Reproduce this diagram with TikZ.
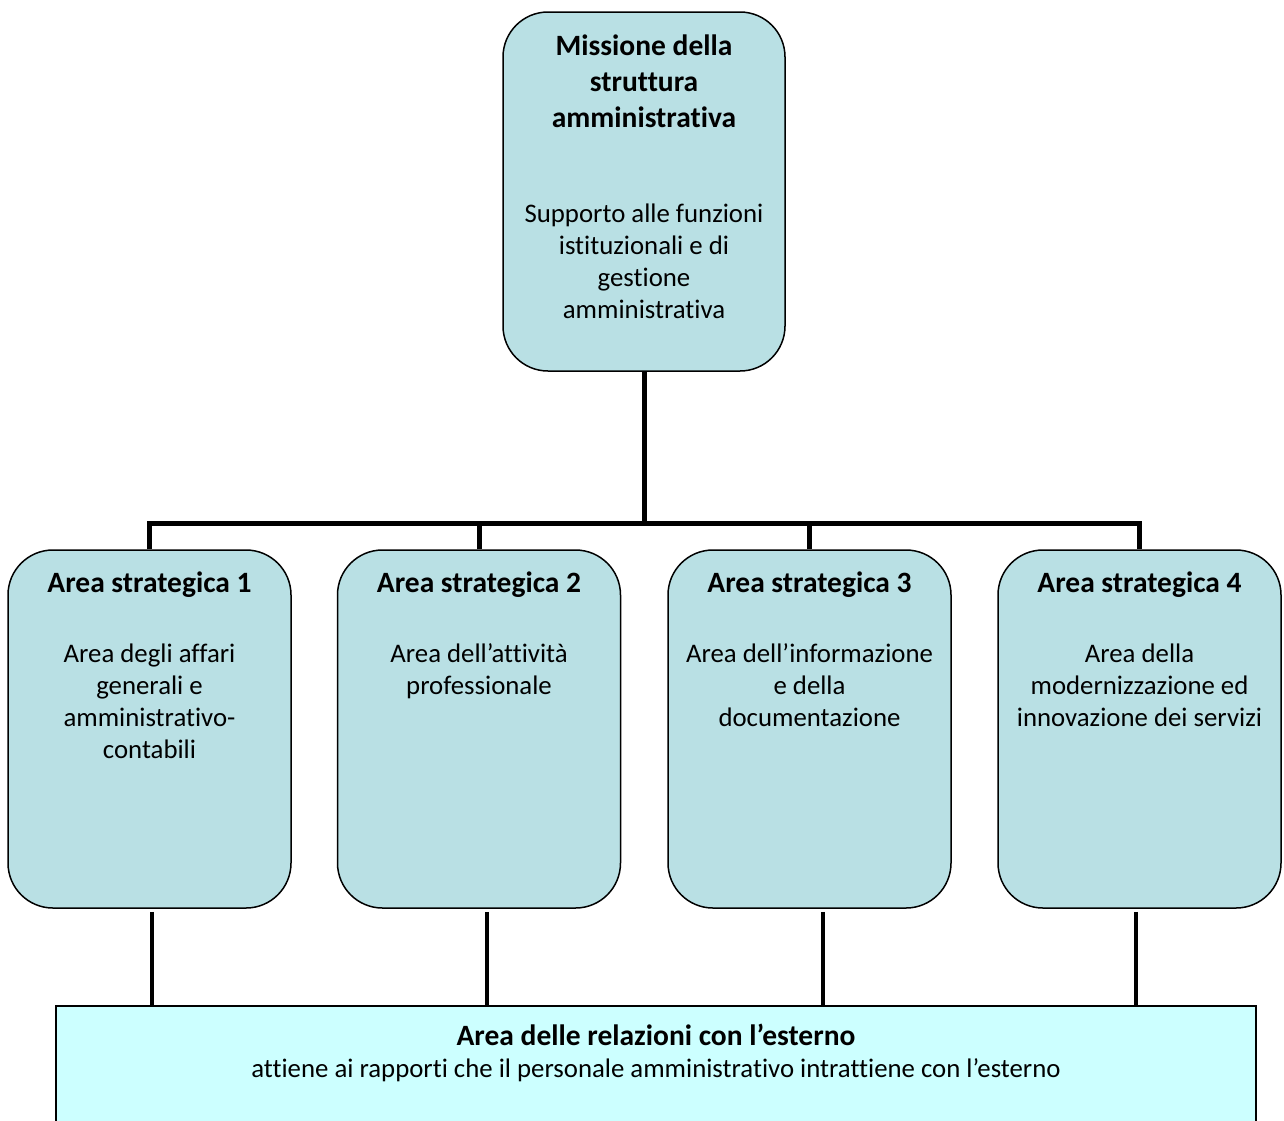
\documentclass[tikz,border=0pt]{standalone}
\usepackage{fontspec}
\setmainfont{Carlito}[Ligatures={NoCommon}]
\definecolor{areafill}{RGB}{185,224,228}
\definecolor{extfill}{RGB}{204,255,255}
\begin{document}
\begin{tikzpicture}[x=1pt,y=-1pt,
  rbox/.style={draw=black, line width=1.5pt, fill=areafill, rounded corners=45pt,
    minimum width=283pt, minimum height=358pt, inner sep=0pt},
  ebox/.style={draw=black, line width=1.5pt, fill=extfill,
    minimum width=1200pt, minimum height=130pt, inner sep=0pt},
  ttl/.style={anchor=base, inner sep=0pt},
  conn/.style={line width=5pt},
  conn2/.style={line width=4pt},
]
\clip (0,0) rectangle (1284,1120);
\fill[white] (0,0) rectangle (1284,1120);
\newcommand\ttext[1]{\begin{minipage}[t]{320pt}\centering\fontsize{29.5}{36}\selectfont\bfseries #1\end{minipage}}
\newcommand\btext[1]{\begin{minipage}[t]{320pt}\centering\fontsize{26.8}{32}\selectfont #1\end{minipage}}

% boxes
\node[rbox, minimum width=282pt, minimum height=359pt] (top) at (644,191.5) {};
\node[rbox] (a1) at (149.5,729) {};
\node[rbox] (a2) at (479,729) {};
\node[rbox] (a3) at (809.5,729) {};
\node[rbox] (a4) at (1139.5,729) {};
\node[ebox] (bot) at (656,1071) {};

% texts
\node[ttl] (t0) at (644,55) {\ttext{Missione della\\struttura\\amministrativa}};
\node[ttl] (s0) at (644,222) {\btext{Supporto alle funzioni\\istituzionali e di\\gestione\\amministrativa}};
\node[ttl] (t1) at (149.5,592) {\ttext{Area strategica 1}};
\node[ttl] (s1) at (149.5,662) {\btext{Area degli affari\\generali e\\amministrativo-\\contabili}};
\node[ttl] (t2) at (479,592) {\ttext{Area strategica 2}};
\node[ttl] (s2) at (479,662) {\btext{Area dell’attività\\professionale}};
\node[ttl] (t3) at (809.5,592) {\ttext{Area strategica 3}};
\node[ttl] (s3) at (809.5,662) {\btext{Area dell’informazione\\e della\\documentazione}};
\node[ttl] (t4) at (1139.5,592) {\ttext{Area strategica 4}};
\node[ttl] (s4) at (1139.5,662) {\btext{Area della\\modernizzazione ed\\innovazione dei servizi}};
\node[ttl] (tb) at (656,1045) {\begin{minipage}[t]{1150pt}\centering\fontsize{29.5}{36}\selectfont\bfseries Area delle relazioni con l’esterno\end{minipage}};
\node[ttl] (sb) at (656,1077) {\begin{minipage}[t]{1150pt}\centering\fontsize{26.8}{32}\selectfont attiene ai rapporti che il personale amministrativo intrattiene con l’esterno\end{minipage}};

% top connectors
\coordinate (hub) at (644,523);
\draw[conn] (top.south) -- (hub);
\draw[conn] (a1.north) -- (a1.north |- hub) -- (a4.north |- hub) -- (a4.north);
\draw[conn] (a2.north) -- (a2.north |- hub);
\draw[conn] (a3.north) -- (a3.north |- hub);

% bottom connectors
\coordinate (d1) at ([xshift=2.5pt,yshift=-3pt]a1.south);
\coordinate (d2) at ([xshift=8pt,yshift=-3pt]a2.south);
\coordinate (d3) at ([xshift=13.5pt,yshift=-3pt]a3.south);
\coordinate (d4) at ([xshift=-3.5pt,yshift=-3pt]a4.south);
\foreach \d in {d1,d2,d3,d4}{\draw[conn2] (\d) -- (\d |- bot.north);}
\end{tikzpicture}
\end{document}
